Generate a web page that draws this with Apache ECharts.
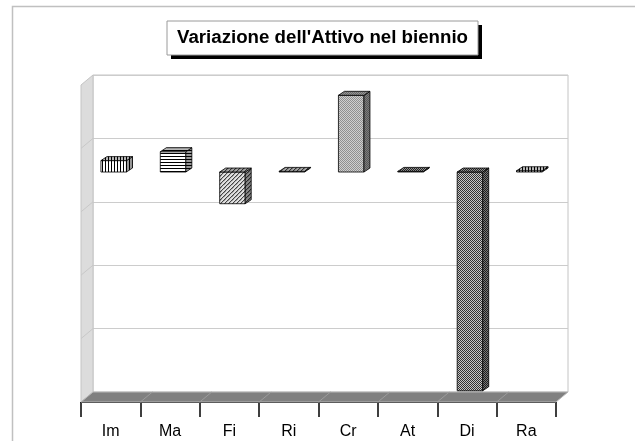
<!DOCTYPE html>
<html>
<head>
<meta charset="utf-8">
<script src="https://cdn.jsdelivr.net/npm/echarts@6/dist/echarts.min.js"></script>
<style>
  html, body { margin: 0; padding: 0; background: #fff; }
  #chart { width: 635px; height: 441px; }
</style>
</head>
<body>
<div id="chart"></div>
<script>
const categories = ['Im', 'Ma', 'Fi', 'Ri', 'Cr', 'At', 'Di', 'Ra'];
const variazione = [18, 32, -50, 1, 121, 1, -345, 2];
const titleText = "Variazione dell'Attivo nel biennio";

// fill pattern per column (style only)
const fills = ['vert', 'horiz', 'diag', 'diag', 'weave', 'check', 'check', 'vert'];

// 3D depth in pixels
const DEPTH_X = 12, DEPTH_Y = 10;
const FRONT_X = -9, FRONT_Y = 7, BAR_DX = 6, BAR_DY = 4;

function makePattern(kind) {
  const c = document.createElement('canvas');
  const ctx = c.getContext('2d');
  const px = (x, y, col) => { ctx.fillStyle = col; ctx.fillRect(x, y, 1, 1); };
  if (kind === 'vert') {
    c.width = 3; c.height = 3;
    ctx.fillStyle = '#fff'; ctx.fillRect(0, 0, 3, 3);
    ctx.fillStyle = '#000'; ctx.fillRect(0, 0, 1, 3);
  } else if (kind === 'horiz') {
    c.width = 3; c.height = 3;
    ctx.fillStyle = '#fff'; ctx.fillRect(0, 0, 3, 3);
    ctx.fillStyle = '#000'; ctx.fillRect(0, 0, 3, 1);
  } else if (kind === 'diag') {
    c.width = 4; c.height = 4;
    ctx.fillStyle = '#e0e0e0'; ctx.fillRect(0, 0, 4, 4);
    px(3, 0, '#444'); px(2, 1, '#444'); px(1, 2, '#444'); px(0, 3, '#444');
    px(0, 0, '#999'); px(1, 3, '#999'); px(2, 2, '#bbb'); px(3, 1, '#bbb');
  } else if (kind === 'weave') {
    c.width = 2; c.height = 2;
    ctx.fillStyle = '#d0d0d0'; ctx.fillRect(0, 0, 2, 2);
    px(0, 0, '#909090'); px(1, 1, '#909090');
  } else {
    c.width = 2; c.height = 2;
    ctx.fillStyle = '#c8c8c8'; ctx.fillRect(0, 0, 2, 2);
    px(0, 0, '#333'); px(1, 1, '#333');
  }
  return { image: c, repeat: 'repeat' };
}

const chart = echarts.init(document.getElementById('chart'), null, { renderer: 'canvas' });

function renderWalls(params, api) {
  const cs = params.coordSys;
  const x = cs.x, y = cs.y, w = cs.width, h = cs.height;
  const children = [];
  // side wall
  children.push({
    type: 'polygon',
    shape: { points: [[x, y], [x, y + h], [x - DEPTH_X, y + h + DEPTH_Y], [x - DEPTH_X, y + DEPTH_Y]] },
    style: { fill: '#dcdcdc', stroke: '#c4c4c4', lineWidth: 1 }
  });
  for (let k = 1; k < 5; k++) {
    const gy = y + k * h / 5;
    children.push({
      type: 'line',
      shape: { x1: x, y1: gy, x2: x - DEPTH_X, y2: gy + DEPTH_Y },
      style: { stroke: '#c8c8c8', lineWidth: 1 }
    });
  }
  // floor
  children.push({
    type: 'polygon',
    shape: { points: [[x, y + h], [x + w, y + h], [x + w - DEPTH_X, y + h + DEPTH_Y], [x - DEPTH_X, y + h + DEPTH_Y]] },
    style: { fill: '#808080', stroke: '#b8b8b8', lineWidth: 1 }
  });
  const cw = w / categories.length;
  for (let i = 1; i < categories.length; i++) {
    children.push({
      type: 'line',
      shape: { x1: x + i * cw, y1: y + h, x2: x + i * cw - DEPTH_X, y2: y + h + DEPTH_Y },
      style: { stroke: '#9c9c9c', lineWidth: 1 }
    });
  }
  return { type: 'group', children: children };
}

function renderBar(params, api) {
  const idx = api.value(0);
  const val = api.value(1);
  const base = api.coord([idx, 0]);
  const tip = api.coord([idx, val]);
  const bw = api.size([1, 0])[0] * 0.43;
  const x0 = base[0] + FRONT_X - bw / 2;
  const x1 = x0 + bw;
  const top = Math.min(base[1], tip[1]) + FRONT_Y;
  const bot = Math.max(base[1], tip[1]) + FRONT_Y;
  const pat = makePattern(fills[params.dataIndex]);
  const edge = { stroke: '#000', lineWidth: 0.8 };
  const topPts = [[x0, top], [x1, top], [x1 + BAR_DX, top - BAR_DY], [x0 + BAR_DX, top - BAR_DY]];
  const sidePts = [[x1, top], [x1 + BAR_DX, top - BAR_DY], [x1 + BAR_DX, bot - BAR_DY], [x1, bot]];
  return {
    type: 'group',
    children: [
      { type: 'rect', shape: { x: x0, y: top, width: bw, height: Math.max(bot - top, 0.5) },
        style: Object.assign({ fill: pat }, edge) },
      { type: 'polygon', shape: { points: sidePts }, style: { fill: pat } },
      { type: 'polygon', shape: { points: sidePts }, style: Object.assign({ fill: 'rgba(0,0,0,0.4)' }, edge) },
      { type: 'polygon', shape: { points: topPts }, style: { fill: pat } },
      { type: 'polygon', shape: { points: topPts }, style: Object.assign({ fill: 'rgba(0,0,0,0.28)' }, edge) }
    ]
  };
}

const option = {
  animation: false,
  backgroundColor: '#fff',
  grid: [
    { left: 93, top: 75, width: 475, height: 317, show: true, borderColor: '#c4c4c4', borderWidth: 1, backgroundColor: '#fff' },
    { left: 81, top: 85, width: 475, height: 317, show: false }
  ],
  xAxis: [
    { gridIndex: 0, type: 'category', data: categories, show: false },
    {
      gridIndex: 1, type: 'category', data: categories,
      axisLine: { show: true, lineStyle: { color: '#000', width: 1 } },
      axisTick: { show: true, length: 15, lineStyle: { color: '#000', width: 1.5 } },
      axisLabel: { fontSize: 16, color: '#000', margin: 22, fontFamily: '"Liberation Sans", Arial, sans-serif' }
    }
  ],
  yAxis: [
    { gridIndex: 0, type: 'value', min: -358, max: 142, show: false },
    {
      gridIndex: 0, type: 'value', min: 0, max: 5, interval: 1,
      axisLine: { show: false }, axisTick: { show: false }, axisLabel: { show: false },
      splitLine: { show: true, lineStyle: { color: '#cccccc', width: 1 } }
    },
    { gridIndex: 1, type: 'value', min: 0, max: 1, show: false }
  ],
  graphic: [
    { type: 'polyline', shape: { points: [[12.5, 441], [12.5, 6.5], [635, 6.5]] },
      style: { stroke: '#c0c0c0', lineWidth: 1.5, fill: null }, silent: true },
    { type: 'rect', shape: { x: 171, y: 25, width: 311, height: 34 }, style: { fill: '#000' } },
    { type: 'rect', shape: { x: 167, y: 21, width: 311, height: 34 }, style: { fill: '#fff', stroke: '#9a9a9a', lineWidth: 1 } },
    { type: 'text', x: 322.5, y: 38,
      style: { text: titleText, align: 'center', verticalAlign: 'middle',
               font: 'bold 18.7px "Liberation Sans", Arial, sans-serif', fill: '#000' } }
  ],
  series: [
    {
      type: 'custom', name: 'walls', xAxisIndex: 0, yAxisIndex: 0, z: 1, clip: false,
      renderItem: renderWalls, data: [[0, 0]], silent: true
    },
    {
      type: 'custom', name: 'Variazione', xAxisIndex: 0, yAxisIndex: 0, z: 3, clip: false,
      renderItem: renderBar,
      data: variazione.map((v, i) => [i, v])
    }
  ]
};

chart.setOption(option);
</script>
</body>
</html>
